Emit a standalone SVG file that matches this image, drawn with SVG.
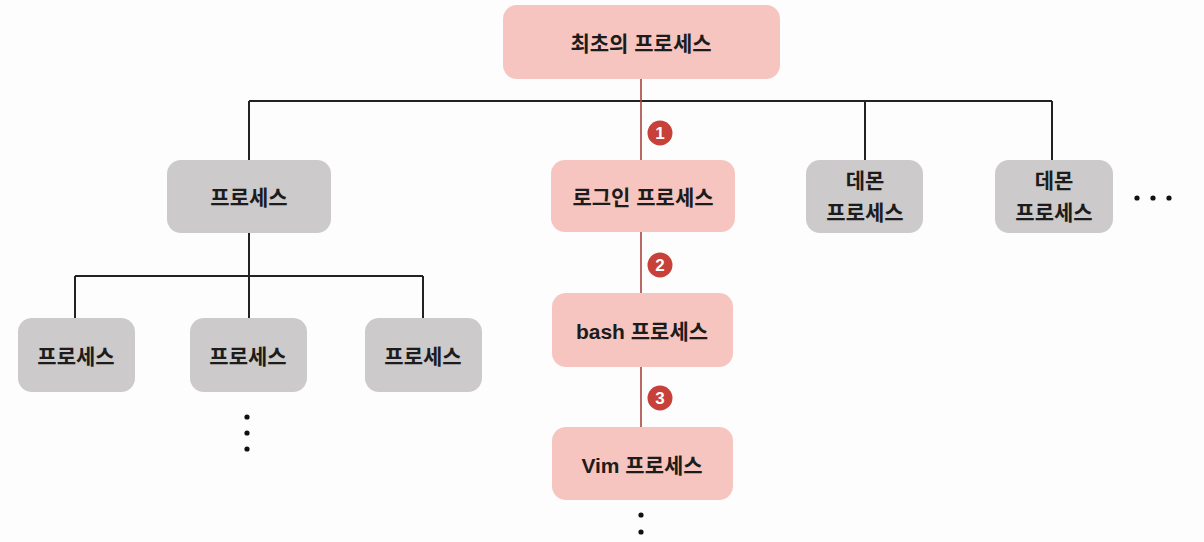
<svg xmlns="http://www.w3.org/2000/svg" width="1204" height="542" viewBox="0 0 1204 542">
<style>
.pink{fill:#f7c5bf}
.gray{fill:#cccaca}
.t{font-family:"Liberation Sans","Noto Sans CJK KR",sans-serif;font-weight:bold;font-size:21px;fill:#1c1c1c;text-anchor:middle;dominant-baseline:central}
.blk{stroke:#222;stroke-width:2;fill:none}
.red{stroke:#a8443e;stroke-width:1.6;fill:none}
.badge{fill:#c8403a}
.bt{font-family:"Liberation Sans",sans-serif;font-weight:bold;font-size:17px;fill:#fff;text-anchor:middle;dominant-baseline:central}
.dot{fill:#111}
</style>
<rect width="1204" height="542" fill="#fefdfd"/>
<g id="connectors">
<path class="blk" d="M249 101 H1052 M249 101 V160 M865 101 V160 M1052 101 V160"/>
<path class="blk" d="M249 233 V276 M75 276 H423 M75 276 V318 M249 276 V318 M423 276 V318"/>
<path class="red" d="M641 79 V160 M641 232 V293 M641 367 V427"/>
<g id="badges">
<circle class="badge" cx="660" cy="133" r="12.5"/><text class="bt" x="660" y="133">1</text>
<circle class="badge" cx="660" cy="265" r="12.5"/><text class="bt" x="660" y="265">2</text>
<circle class="badge" cx="660" cy="398" r="12.5"/><text class="bt" x="660" y="398">3</text>
</g>
</g>
<g id="root"><rect class="pink" x="503" y="5" width="277" height="74" rx="14"/><text class="t" x="641" y="43">최초의 프로세스</text></g>
<g id="proc-left"><rect class="gray" x="167" y="160" width="164" height="73" rx="14"/><text class="t" x="249" y="197">프로세스</text></g>
<g id="login"><rect class="pink" x="551" y="160" width="184" height="72" rx="14"/><text class="t" x="643" y="197">로그인 프로세스</text></g>
<g id="daemon1"><rect class="gray" x="806" y="160" width="117" height="73" rx="14"/><text class="t" x="865" y="180">데몬</text><text class="t" x="865" y="212">프로세스</text></g>
<g id="daemon2"><rect class="gray" x="995" y="160" width="118" height="73" rx="14"/><text class="t" x="1054" y="180">데몬</text><text class="t" x="1054" y="212">프로세스</text></g>
<g id="child1"><rect class="gray" x="18" y="318" width="117" height="74" rx="14"/><text class="t" x="76" y="356">프로세스</text></g>
<g id="child2"><rect class="gray" x="190" y="318" width="117" height="74" rx="14"/><text class="t" x="248" y="356">프로세스</text></g>
<g id="child3"><rect class="gray" x="365" y="318" width="117" height="74" rx="14"/><text class="t" x="423" y="356">프로세스</text></g>
<g id="bash"><rect class="pink" x="552" y="293" width="181" height="74" rx="14"/><text class="t" x="642" y="331">bash 프로세스</text></g>
<g id="vim"><rect class="pink" x="552" y="427" width="181" height="73" rx="14"/><text class="t" x="642" y="465">Vim 프로세스</text></g>
<g id="ellipses">
<circle class="dot" cx="1137" cy="198" r="2.6"/><circle class="dot" cx="1153" cy="198" r="2.6"/><circle class="dot" cx="1169" cy="198" r="2.6"/>
<circle class="dot" cx="247" cy="417" r="2.6"/><circle class="dot" cx="247" cy="433" r="2.6"/><circle class="dot" cx="247" cy="449" r="2.6"/>
<circle class="dot" cx="641" cy="515" r="2.6"/><circle class="dot" cx="641" cy="532" r="2.6"/>
</g>
</svg>
